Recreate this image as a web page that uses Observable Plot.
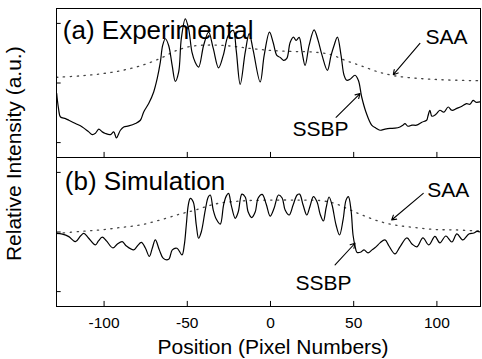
<!DOCTYPE html>
<html><head><meta charset="utf-8">
<script src="https://cdn.jsdelivr.net/npm/d3@7"></script>
<script src="https://cdn.jsdelivr.net/npm/@observablehq/plot@0.6"></script>
<style>html,body{margin:0;padding:0;background:#fff;}</style>
</head><body><div id="chart"></div>
<script>
const panels = ["a", "b"];
const panelTitles = ["(a) Experimental", "(b) Simulation"];
const xTicks = [-100, -50, 0, 50, 100];
const yTicks = [10, 50, 90];

// (a) Experimental SSBP profile
const expX = [-128.5,-127.4,-126.2,-123.2,-121.2,-117.2,-113.1,-109.2,-107.1,-105.2,-103.2,-101.1,-99.2,-96.2,-94.2,-92.6,-90.2,-88.2,-85.2,-81.2,-78.2,-76.2,-73.2,-70.2,-68.1,-66.2,-64.8,-63.2,-61.2,-59.1,-57.2,-55.2,-53.6,-51.2,-49.2,-47.2,-45.2,-43.2,-40.2,-37.2,-34.4,-31.2,-28.4,-25.4,-22.4,-20.6,-18.2,-15.2,-12.8,-10.4,-6.2,-3.8,-0.6,1.6,3.8,5.8,7.8,9.8,11.8,13.8,15.4,17.2,19.0,20.8,23.2,26.2,28.6,31.0,34.2,36.4,38.2,40.2,42.4,44.2,45.8,47.8,50.8,52.8,54.8,57.4,60.8,63.4,65.8,68.8,71.8,74.8,77.8,79.6,80.8,82.6,85.0,87.8,91.0,93.8,94.6,95.8,97.0,99.4,101.8,104.2,106.8,109.0,112.0,115.0,117.8,119.8,121.8,123.4,125.8];
const expY = [43.1,33.0,27.2,26.1,25.0,22.8,20.5,17.2,15.4,16.3,19.0,17.2,16.1,15.4,17.2,13.2,18.3,20.5,21.2,22.8,25.0,30.6,36.2,44.0,52.9,64.0,75.2,79.7,75.2,61.8,51.1,57.3,79.7,93.1,86.4,70.7,63.8,60.7,75.2,84.1,73.2,60.2,68.5,81.9,85.3,71.9,49.1,70.5,83.2,71.9,50.7,68.5,84.1,77.2,68.5,67.2,65.2,66.5,77.2,80.8,78.6,80.6,70.5,61.8,75.2,85.7,78.6,68.5,58.5,68.5,75.2,80.8,68.5,55.2,51.8,52.5,55.2,51.8,40.6,30.4,21.8,19.7,18.3,19.0,19.5,19.7,20.5,21.7,22.8,21.0,21.7,21.7,23.7,25.0,27.7,31.7,27.7,29.0,31.7,30.4,33.9,31.7,33.0,34.4,36.2,35.7,38.4,37.1,37.3];

// (b) Simulated SSBP profile
const simX = [-128.5,-125.1,-121.2,-117.2,-114.2,-112.2,-109.4,-105.2,-103.4,-101.1,-98.6,-94.7,-92.0,-89.1,-86.6,-82.2,-80.0,-77.6,-75.2,-72.8,-71.0,-69.2,-66.8,-64.4,-61.2,-59.0,-56.2,-53.2,-51.8,-50.6,-49.4,-48.2,-46.4,-44.6,-43.2,-41.6,-39.2,-37.4,-36.2,-34.4,-32.6,-30.2,-28.2,-26.6,-25.2,-23.6,-21.2,-19.4,-17.2,-15.2,-13.4,-11.3,-9.2,-7.4,-5.0,-2.6,-0.2,2.2,4.8,7.0,8.8,11.2,13.6,16.0,17.5,19.6,21.8,23.8,25.8,28.0,29.8,31.8,33.4,35.2,37.0,39.4,41.5,43.6,45.4,46.8,48.4,49.6,50.8,52.0,54.4,56.2,58.6,61.0,63.4,65.8,68.8,71.2,74.8,77.8,82.0,85.0,88.0,91.6,95.2,98.8,101.8,105.4,109.0,112.0,115.6,119.2,122.2,124.0,126.1];
const simY = [49.1,48.6,46.9,43.5,47.3,49.1,46.0,41.3,44.0,46.5,44.0,39.3,42.0,43.5,40.6,38.0,40.6,43.0,39.3,33.6,39.3,44.7,38.0,32.3,31.7,38.0,39.1,34.6,41.3,54.7,68.1,72.6,70.1,54.7,45.8,50.0,64.7,73.5,74.8,64.7,58.7,55.3,68.1,74.1,75.9,68.1,59.2,63.4,75.4,73.5,63.4,59.7,63.4,72.8,75.2,68.8,60.7,66.1,74.8,72.8,64.7,61.4,68.1,74.8,75.4,68.1,61.4,67.5,73.7,70.1,62.1,57.4,66.1,73.5,68.1,54.7,48.0,58.1,71.4,73.7,64.7,48.0,40.6,36.3,36.6,38.0,36.0,38.0,40.0,42.7,44.7,40.6,35.3,40.0,46.0,42.0,40.0,46.0,41.3,47.0,42.7,47.3,43.3,48.7,44.7,48.7,49.3,50.4,50.0];

// SAA profiles (dotted)
const saaAX = [-128.5,-114.2,-102.2,-90.2,-78.2,-66.2,-57.2,-48.2,-36.2,-24.2,-12.2,-0.2,11.8,23.8,35.8,44.8,53.8,64.6,74.8,88.6,104.8,125.8];
const saaAY = [53.8,54.8,56.1,58.2,61.5,66.5,71.5,74.5,75.5,74.8,73.2,71.9,71.2,70.9,69.2,65.2,61.8,57.5,54.8,53.1,52.1,51.5];
const saaBX = [-128.5,-114.2,-102.2,-90.2,-78.2,-66.2,-54.2,-45.2,-33.2,-18.2,-0.2,17.8,29.8,38.8,46.6,55.0,64.6,74.8,86.8,98.8,110.8,125.8];
const saaBY = [49.0,50.4,51.4,53.0,54.7,58.1,62.1,64.7,68.8,70.8,71.4,71.4,71.1,69.1,65.4,61.4,57.4,54.7,53.0,51.7,51.4,50.7];

const rows = (xs, ys, panel) => xs.map((x, i) => ({x, y: ys[i], panel}));
const ssbp = [...rows(expX, expY, "a"), ...rows(simX, simY, "b")];
const saa = [...rows(saaAX, saaAY, "a"), ...rows(saaBX, saaBY, "b")];

const FONT = "'Liberation Sans', Arial, Helvetica, sans-serif";
const label = (txt, panel, o) => Plot.text([txt], {fy: [panel], text: d => d, frameAnchor: "top-left", textAnchor: "start", lineAnchor: "bottom", fill: "black", ...o});

const chart = Plot.plot({
  width: 482, height: 359,
  marginLeft: 56, marginRight: 2, marginTop: 8, marginBottom: 52.3,
  x: {domain: [-128.6, 126.2]},
  y: {domain: [0, 100], axis: null},
  fy: {domain: panels, padding: 0, axis: null},
  style: {fontFamily: FONT, background: "white", overflow: "visible", color: "black"},
  marks: [
    Plot.line(saa, {x: "x", y: "y", fy: "panel", z: "panel", stroke: "#444", strokeWidth: 1.3, strokeDasharray: "1.3 5.5", strokeLinecap: "round", curve: "catmull-rom"}),
    Plot.line(ssbp, {x: "x", y: "y", fy: "panel", z: "panel", stroke: "black", strokeWidth: 1.2, curve: "catmull-rom"}),
    Plot.frame({stroke: "black", strokeWidth: 1}),
    Plot.ruleX(xTicks, {x: d => d, y1: 0, y2: 3.4, stroke: "black"}),
    Plot.ruleY(yTicks, {y: d => d, x1: -128.6, x2: -125.8, stroke: "black"}),
    Plot.axisX(xTicks, {tickSize: 0, tickPadding: 10.5, fontSize: 15.5, label: null, fill: "black", tickFormat: d => String(d)}),
    label(panelTitles[0], "a", {dx: 6.3, dy: 30.3, fontSize: 26}),
    label(panelTitles[1], "b", {dx: 8.3, dy: 32.7, fontSize: 26}),
    label("SAA", "a", {dx: 369, dy: 35.3, fontSize: 21}),
    label("SSBP", "a", {dx: 236, dy: 127, fontSize: 21}),
    label("SAA", "b", {dx: 370.7, dy: 39.4, fontSize: 21}),
    label("SSBP", "b", {dx: 239, dy: 132.7, fontSize: 21}),
    Plot.arrow([0], {fy: ["a"], x1: 89.8, y1: 76.6, x2: 73.8, y2: 55.6, headLength: 7, strokeWidth: 1.1, stroke: "black"}),
    Plot.arrow([0], {fy: ["a"], x1: 39.4, y1: 27.0, x2: 53.8, y2: 42.9, headLength: 7, strokeWidth: 1.1, stroke: "black"}),
    Plot.arrow([0], {fy: ["b"], x1: 91.8, y1: 75.9, x2: 72.8, y2: 58.05, headLength: 7, strokeWidth: 1.1, stroke: "black"}),
    Plot.arrow([0], {fy: ["b"], x1: 38.8, y1: 27.9, x2: 50.8, y2: 42.45, headLength: 7, strokeWidth: 1.1, stroke: "black"}),
    Plot.text(["Relative Intensity (a.u.)"], {fy: ["a"], text: d => d, frameAnchor: "bottom-left", dx: -36, dy: -3.8, rotate: -90, lineAnchor: "bottom", textAnchor: "middle", fontSize: 21, fill: "black"}),
    Plot.text(["Position (Pixel Numbers)"], {fy: ["b"], text: d => d, frameAnchor: "bottom", dx: 4.5, dy: 47.3, lineAnchor: "bottom", textAnchor: "middle", fontSize: 21, fill: "black"})
  ]
});
document.getElementById("chart").appendChild(chart);
</script>
</body></html>
